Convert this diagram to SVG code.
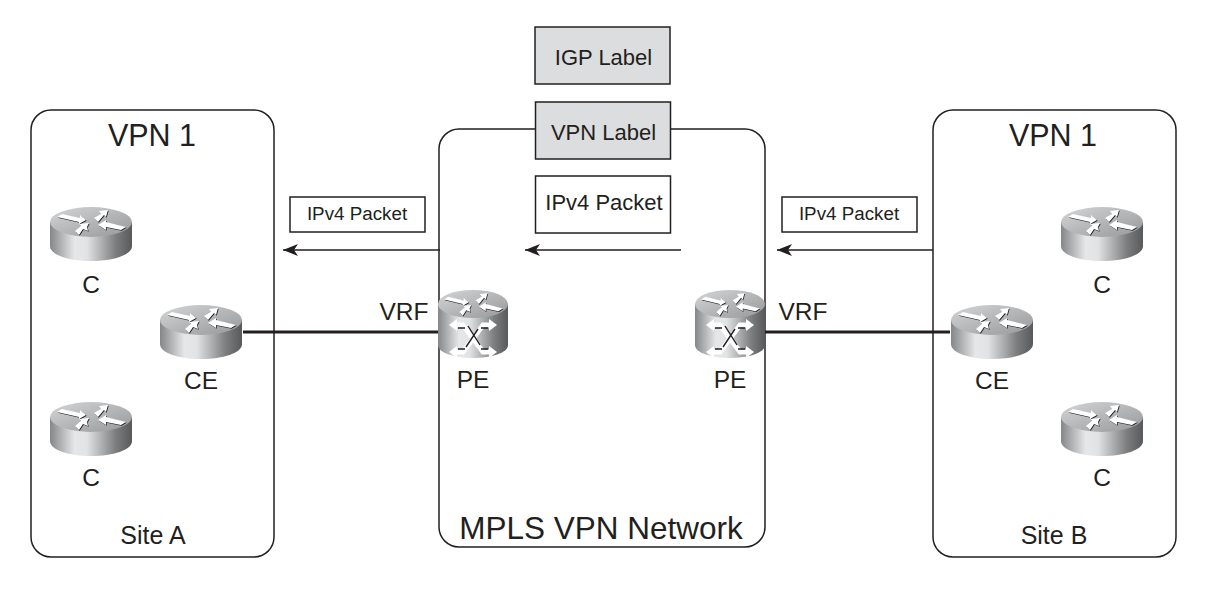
<svg xmlns="http://www.w3.org/2000/svg" width="1229" height="596" viewBox="0 0 1229 596">
<style>
text{font-family:"Liberation Sans",Arial,sans-serif;fill:#231f20;text-anchor:middle}
.area{fill:#fff;stroke:#231f20;stroke-width:1.5}
.box{stroke:#231f20;stroke-width:1.5;fill:#fff}
.grey{fill:#dcddde}
.thin{stroke:#231f20;stroke-width:1.3;fill:none;marker-end:url(#ah)}
.thick{stroke:#231f20;stroke-width:3;fill:none}
.big{font-size:30.5px}.net{font-size:31.5px}.lab{font-size:22px}.small{font-size:18.8px}.name{font-size:24.5px}.site{font-size:25px}
</style>
<defs>
<marker id="ah" markerUnits="userSpaceOnUse" markerWidth="17" markerHeight="14" refX="16" refY="7" orient="auto"><path d="M1 1 L16 7 L1 13 L5 7Z" fill="#231f20"/></marker>
<linearGradient id="body" x1="0" x2="1" y1="0" y2="0">
<stop offset="0" stop-color="#858688"/><stop offset=".3" stop-color="#e6e7e8"/><stop offset=".45" stop-color="#e2e3e4"/><stop offset=".8" stop-color="#7d7e80"/><stop offset="1" stop-color="#58595b"/>
</linearGradient>
<linearGradient id="top" x1="0" x2="1" y1="0" y2="1">
<stop offset="0" stop-color="#d4d5d6"/><stop offset="1" stop-color="#97989a"/>
</linearGradient>
<g id="arrows">
<path d="M-34 -5 L-29 -8 L-11 -4 L-11 -7 L-5 -2 L-12 2 L-12 0Z"/>
<path d="M3 -4 L10 -8 L8 -11 L17 -12 L15 -5 L13 -7 L7 0Z"/>
<path d="M7 3 L15 -2 L15 0 L35 5 L30 8 L15 5 L15 8Z"/>
<path d="M-16 9 L-10 4 L-12 2 L-2 1 L-4 5 L-3 9 L-8 7 L-12 13Z"/>
</g>
<g id="router">
<path d="M-41 0 V24 C-41 33 -22 39 0 39 C22 39 41 33 41 24 V0Z" fill="url(#body)"/>
<ellipse cx="0" cy="0" rx="41" ry="15" fill="url(#top)"/>
<use href="#arrows" x=".7" y=".8" fill="#231f20"/>
<use href="#arrows" fill="#fff"/>
</g>
<g id="perouter">
<path d="M-35 0 V41 C-35 49 -18 54 0 54 C18 54 35 49 35 41 V0Z" fill="url(#body)"/>
<ellipse cx="0" cy="0" rx="35" ry="14" fill="url(#top)"/>
<use href="#arrows" transform="scale(.85 .9)" x=".7" y=".8" fill="#231f20"/>
<use href="#arrows" transform="scale(.85 .9)" fill="#fff"/>
<g fill="none" stroke="#fff" stroke-width="5">
<path d="M-18 21 H-10 L10 48 H18"/><path d="M-18 48 H-10 L10 21 H18"/>
</g>
<g fill="#fff">
<path d="M-24 21 L-16 15 V27Z"/><path d="M24 21 L16 15 V27Z"/><path d="M-24 48 L-16 42 V54Z"/><path d="M24 48 L16 42 V54Z"/>
</g>
<path d="M-5 22 L7 41 M-7 43 L5 25 M-15 24 H-8 M8 24 H15 M-15 45 H-8 M8 45 H15" fill="none" stroke="#231f20" stroke-width="1.4"/>
</g>
</defs>
<rect width="1229" height="596" fill="#fff"/>
<g id="site-a"><rect class="area" x="31" y="110" width="243" height="447" rx="20"/><text class="big" x="152" y="146">VPN 1</text><text class="site" x="153" y="544">Site A</text></g>
<g id="mpls"><rect class="area" x="439" y="129" width="326" height="418" rx="20"/><text class="net" x="601" y="539">MPLS VPN Network</text></g>
<g id="site-b"><rect class="area" x="933" y="110" width="243" height="447" rx="20"/><text class="big" x="1053" y="146">VPN 1</text><text class="site" x="1054" y="544">Site B</text></g>
<g id="connectors">
<path class="thick" d="M243 332H440"/><path class="thick" d="M765 332H950"/>
<path class="thin" d="M440 250H283"/><path class="thin" d="M681 250H525"/><path class="thin" d="M933 250H777"/>
</g>
<g id="igp-label"><rect class="box grey" x="535" y="27" width="135" height="57"/><text class="lab" x="603.500" y="65">IGP Label</text></g>
<g id="vpn-label"><rect class="box grey" x="535.500" y="102" width="135" height="57"/><text class="lab" x="603.500" y="140">VPN Label</text></g>
<g id="ipv4-mid"><rect class="box" x="535.500" y="176" width="135" height="57"/><text class="lab" x="604" y="210">IPv4 Packet</text></g>
<g id="ipv4-left"><rect class="box" x="290" y="197" width="135" height="35"/><text class="small" x="357" y="220">IPv4 Packet</text></g>
<g id="ipv4-right"><rect class="box" x="782" y="197" width="135" height="35"/><text class="small" x="849" y="220">IPv4 Packet</text></g>
<text class="name" x="404" y="320">VRF</text><text class="name" x="803" y="320">VRF</text>
<g id="c-a1"><use href="#router" x="91" y="222"/><text class="name" x="91" y="293">C</text></g>
<g id="ce-a"><use href="#router" x="201" y="320"/><text class="name" x="201" y="389">CE</text></g>
<g id="c-a2"><use href="#router" x="91" y="417"/><text class="name" x="91" y="486">C</text></g>
<g id="pe-a"><use href="#perouter" x="473" y="304"/><text class="name" x="473" y="388">PE</text></g>
<g id="pe-b"><use href="#perouter" x="730" y="304"/><text class="name" x="730" y="388">PE</text></g>
<g id="c-b1"><use href="#router" x="1102" y="222"/><text class="name" x="1102" y="293">C</text></g>
<g id="ce-b"><use href="#router" x="992" y="320"/><text class="name" x="992" y="389">CE</text></g>
<g id="c-b2"><use href="#router" x="1102" y="417"/><text class="name" x="1102" y="486">C</text></g>
</svg>
